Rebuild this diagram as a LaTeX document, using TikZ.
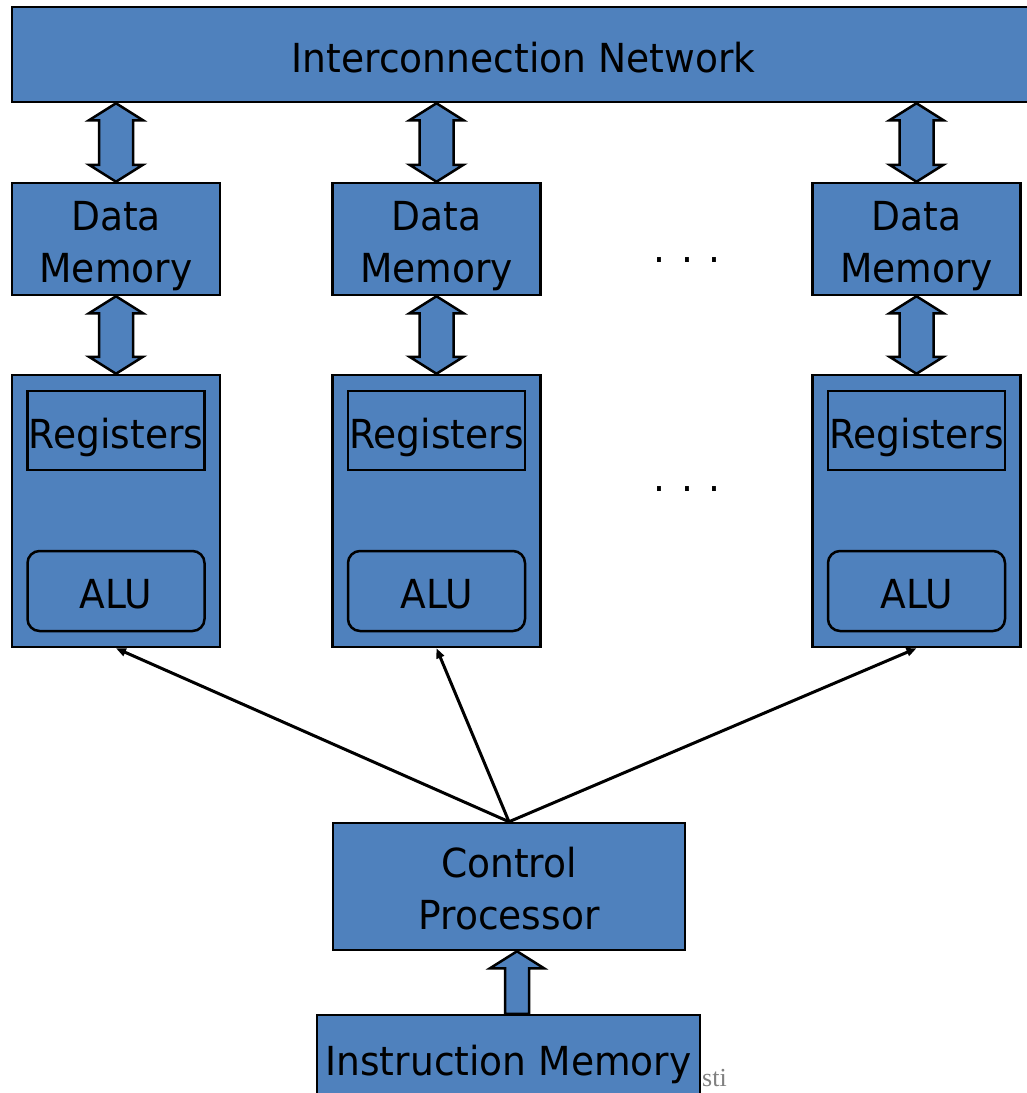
\documentclass[tikz,border=0pt]{standalone}
\usepackage{fontspec}
\usetikzlibrary{arrows.meta,calc}
\newfontfamily\labelfont[FakeStretch=0.94]{DejaVu Sans}
\newfontfamily\notefont{Liberation Serif}
\definecolor{boxblue}{HTML}{4F81BD}
\definecolor{notegray}{HTML}{808080}

\tikzset{
  unitbox/.style={draw=black, line width=2.5pt, fill=boxblue, inner sep=0pt,
    font=\labelfont\fontsize{40}{52}\selectfont, align=center, text=black,
    text height=38pt, text depth=3pt},
  twoline/.style={text height=86pt, text depth=-4pt},
  roundbox/.style={unitbox, rounded corners=12pt},
  blockarrow/.style={draw=black, line width=2.5pt, fill=boxblue, line join=miter},
  ctrl/.style={draw=black, line width=3pt, -{Triangle[length=10pt,width=8pt]}},
  dots/.style={font=\labelfont\fontsize{40}{52}\selectfont, inner sep=0pt},
}

% two-headed block arrow between the bottom of #1 and the top of #2
\newcommand\twowayarrow[2]{%
  \draw[blockarrow] let \p1=(#2.north), \p2=(#1.south) in
    (\x1,\y2) -- (\x1+27pt,\y2-17pt) -- (\x1+17pt,\y2-17pt) -- (\x1+17pt,\y1+17pt)
    -- (\x1+27pt,\y1+17pt) -- (\x1,\y1) -- (\x1-27pt,\y1+17pt) -- (\x1-17pt,\y1+17pt)
    -- (\x1-17pt,\y2-17pt) -- (\x1-27pt,\y2-17pt) -- cycle;}

\begin{document}
\begin{tikzpicture}[x=1pt,y=-1pt]
\useasboundingbox (0,0) rectangle (1027,1093);

% interconnection network across the top
\node[unitbox, minimum width=1023pt, minimum height=95pt] (net) at (523.5,54.5) {Interconnection Network};

% processing elements: data memory above, registers and ALU inside
\foreach \i/\cx in {1/116, 2/436.5, 3/916.5}{
  \node[unitbox, twoline, minimum width=208pt, minimum height=112pt] (dm\i) at (\cx,239) {Data\\Memory};
  \node[unitbox, minimum width=208pt, minimum height=272pt] (pe\i) at (\cx,511) {};
  \node[unitbox, minimum width=177pt, minimum height=79pt] (reg\i) at (\cx,430.5) {Registers};
  \node[roundbox, minimum width=177pt, minimum height=80pt] (alu\i) at (\cx,591) {ALU};
  \twowayarrow{net}{dm\i}
  \twowayarrow{dm\i}{pe\i}
}

% elided columns
\node[dots, anchor=base] (dotsA) at (687,262) {.\hspace{16pt}.\hspace{16pt}.};
\node[dots, anchor=base] (dotsB) at (687,491) {.\hspace{16pt}.\hspace{16pt}.};

% control processor and instruction memory
\node[unitbox, twoline, minimum width=352pt, minimum height=127pt] (cp) at (509,886.5) {Control\\Processor};
\node[unitbox, minimum width=383pt, minimum height=85pt] (im) at (508.5,1057.5) {Instruction Memory};

% instruction broadcast
\coordinate (fan) at (cp.north);
\draw[ctrl] (fan) -- (pe1.south);
\draw[ctrl] (fan) -- (pe2.south);
\draw[ctrl] (fan) -- (pe3.south);

% instruction fetch into the control processor
\draw[blockarrow] let \p1=(cp.south), \p2=(im.north) in
  (\x1+8pt,\y2) -- (\x1+20pt,\y2) -- (\x1+20pt,\y1-17pt) -- (\x1+35pt,\y1-17pt)
  -- (\x1+8pt,\y1) -- (\x1-19pt,\y1-17pt) -- (\x1-4pt,\y1-17pt) -- (\x1-4pt,\y2) -- cycle;

\node[font=\notefont\fontsize{26}{30}\selectfont, text=notegray, anchor=base west, inner sep=0pt] (note) at (702,1086) {sti};
\end{tikzpicture}
\end{document}
